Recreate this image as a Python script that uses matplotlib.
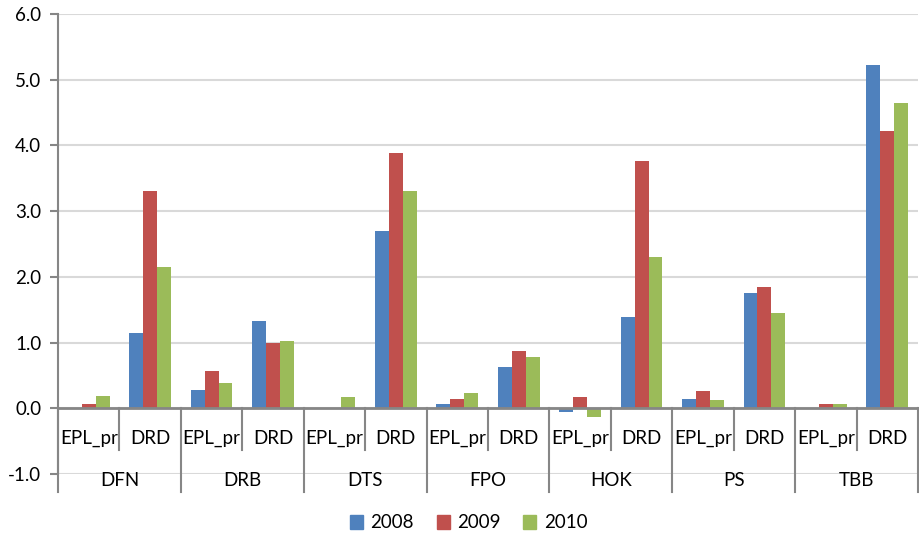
import numpy as np
import matplotlib.pyplot as plt
from matplotlib.patches import Patch

plt.rcParams['font.family'] = ['Lato', 'DejaVu Sans']

groups = ['DFN', 'DRB', 'DTS', 'FPO', 'HOK', 'PS', 'TBB']
subs = ['EPL_pr', 'DRD']
years = ['2008', '2009', '2010']
colors = ['#4F81BD', '#C0504D', '#9BBB59']

# values per (group, sub) in order DFN EPL_pr, DFN DRD, DRB EPL_pr, ...
v2008 = [0.00, 1.14, 0.28, 1.33, 0.00, 2.70, 0.07, 0.63, -0.05, 1.39, 0.14, 1.76, 0.00, 5.23]
v2009 = [0.07, 3.31, 0.56, 0.99, 0.00, 3.89, 0.14, 0.87, 0.17, 3.77, 0.26, 1.85, 0.07, 4.22]
v2010 = [0.19, 2.15, 0.38, 1.02, 0.17, 3.31, 0.23, 0.78, -0.13, 2.30, 0.13, 1.45, 0.07, 4.65]
series = [v2008, v2009, v2010]

fig = plt.figure(figsize=(9.19, 5.35), dpi=100)
ax = fig.add_axes([58/919, 61/535, 860/919, 460/535])

x = np.arange(len(v2008))
w = 0.227
for i, vals in enumerate(series):
    ax.bar(x + (i - 1)*w, vals, width=w, color=colors[i], zorder=3)

ax.set_xlim(-0.5, len(x) - 0.5)
ax.set_ylim(-1, 6)
ax.set_yticks(np.arange(-1, 7, 1))
ax.set_yticklabels(['%.1f' % t for t in np.arange(-1, 7, 1)], fontsize=13.5)
ax.grid(axis='y', color='#D9D9D9', lw=1.5, zorder=0)
ax.set_xticks([])
for s in ['top', 'right', 'bottom']:
    ax.spines[s].set_visible(False)
ax.spines['left'].set_color('#868686')
ax.spines['left'].set_linewidth(1.5)
ax.tick_params(axis='y', length=6, width=1.5, color='#868686', pad=6)

# category axis at zero
ax.axhline(0, color='#868686', lw=2, zorder=4)
gc = '#868686'
for k in range(len(x) + 1):
    b = k - 0.5
    low = -1.28 if k % 2 == 0 else -0.64
    ax.plot([b, b], [0, low], color=gc, lw=1.5, clip_on=False, zorder=4)
for k in range(len(x)):
    ax.text(k, -0.46, subs[k % 2], ha='center', va='center', fontsize=13.5,
            clip_on=False)
for g, name in enumerate(groups):
    ax.text(2*g + 0.5, -1.1, name, ha='center', va='center', fontsize=13.5,
            clip_on=False)

handles = [Patch(color=c) for c in colors]
fig.legend(handles, years, loc='lower center', bbox_to_anchor=(0.51, -0.025),
           ncol=3, frameon=False, fontsize=13.5, handlelength=0.7,
           handleheight=0.7, handletextpad=0.4, columnspacing=1.2)

plt.savefig('out.png', dpi=100)
